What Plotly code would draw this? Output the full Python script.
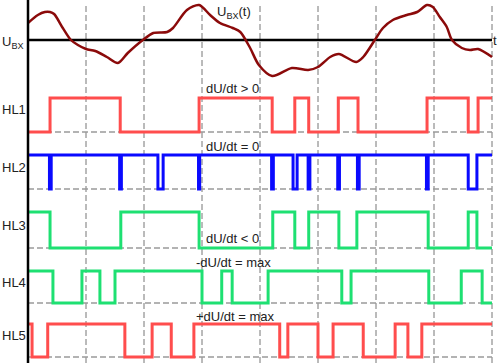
import plotly.graph_objects as go

# ---------------- data ----------------
# input voltage U_BX(t), time in grid units (dashed lines at t = 1..8)
u_t = [0.0, 0.17, 0.29, 0.38, 0.45, 0.60, 0.74, 0.86, 1.0, 1.16, 1.36, 1.55, 1.72, 1.98,
       2.16, 2.40, 2.50, 2.74, 2.95, 3.14, 3.31, 3.53, 3.66, 3.83, 3.98, 4.21, 4.55, 4.83,
       5.0, 5.21, 5.36, 5.66, 5.78, 5.98, 6.12, 6.29, 6.53, 6.71, 6.88, 6.98, 7.10, 7.22,
       7.31, 7.48, 7.62, 7.76, 8.0]
u_val = [1.7, 2.5, 2.8, 2.8, 2.6, 1.2, 0.0, -0.5, -0.9, -1.1, -1.7, -2.3, -1.3, 0.0,
         0.7, 0.8, 1.2, 3.0, 3.5, 2.5, 1.7, 1.2, 0.8, -0.8, -2.5, -3.6, -2.8, -3.0,
         -2.7, -1.7, -1.4, -2.2, -1.7, 0.0, 1.2, 2.0, 2.5, 2.8, 3.5, 3.3, 2.3, 1.3,
         0.0, -0.8, -1.0, -0.9, -1.7]

t_end = 8.0

# digital outputs: starting level and switching times
hl_names = ["HL1", "HL2", "HL3", "HL4", "HL5"]
hl1_start = 0
hl1_switch = [0.38, 1.59, 2.95, 4.21, 4.60, 4.84, 5.35, 5.69, 6.88, 7.59, 7.76]
hl2_start = 1
hl2_switch = [0.37, 0.40, 1.58, 1.61, 2.24, 2.33, 2.94, 2.96, 4.20, 4.23, 4.57, 4.64,
              4.83, 4.86, 5.34, 5.37, 5.68, 5.71, 6.87, 6.90, 7.59, 7.74]
hl3_start = 1
hl3_switch = [0.38, 1.60, 2.95, 4.22, 4.60, 4.84, 5.36, 5.67, 6.90, 7.59, 7.74]
hl4_start = 1
hl4_switch = [0.43, 0.93, 1.24, 1.50, 3.0, 3.34, 3.52, 4.14, 5.41, 5.57, 6.91, 7.47, 7.83]
hl5_start = 1
hl5_switch = [0.07, 0.34, 1.67, 2.14, 2.47, 2.86, 4.34, 4.48, 5.0, 5.26, 5.78, 6.33,
              6.55, 6.79]

grid_t = [1, 2, 3, 4, 5, 6, 7, 8]

condition_labels = ["dU/dt > 0", "dU/dt = 0", "dU/dt < 0", "-dU/dt = max", "+dU/dt = max"]

# ---------------- layout helpers ----------------
W, H = 500, 363
X0PX, UNITPX = 28, 58


def py2paper(py):
    return 1 - py / H


def px2paper(px):
    return px / W


# pixel rows (high level, low level) of each digital trace
rows_px = [(98, 132), (155, 189), (212, 248), (271, 303), (324, 357)]
colors = ["#ff4d4d", "#0a0aff", "#1ee072", "#1ee072", "#ff4d4d"]
pad = 0.15

fig = go.Figure()


def step_xy(start, switch, end):
    xs = [0.0] + list(switch) + [end]
    ys = []
    lvl = start
    for _ in range(len(switch) + 1):
        ys.append(lvl)
        lvl = 1 - lvl
    ys.append(ys[-1])
    return xs, ys


fig.add_trace(go.Scatter(x=u_t, y=u_val, mode="lines",
                         line=dict(color="#8b0a0a", width=2.5, shape="spline", smoothing=0.8),
                         xaxis="x", yaxis="y", showlegend=False, hoverinfo="skip"))

signals = [(hl1_start, hl1_switch), (hl2_start, hl2_switch), (hl3_start, hl3_switch),
           (hl4_start, hl4_switch), (hl5_start, hl5_switch)]

layout_axes = {}
shapes = []
for i, ((st, sw), (hi, lo), col) in enumerate(zip(signals, rows_px, colors)):
    ax = "y%d" % (i + 2)
    xs, ys = step_xy(st, sw, t_end)
    fig.add_trace(go.Scatter(x=xs, y=ys, mode="lines",
                             line=dict(color=col, width=3, shape="hv"),
                             xaxis="x", yaxis=ax, showlegend=False, hoverinfo="skip"))
    amp = lo - hi
    top = hi - pad * amp
    bot = lo + pad * amp
    layout_axes["yaxis%d" % (i + 2)] = dict(
        domain=[py2paper(bot), py2paper(top)], range=[-pad, 1 + pad],
        visible=False, fixedrange=True, anchor="x")
    shapes.append(dict(type="line", xref="x", yref=ax, x0=0, x1=t_end, y0=0, y1=0,
                       line=dict(color="#9a9a9a", width=1.5, dash="6px,3px"), layer="below"))

# dashed vertical grid
for g in grid_t:
    shapes.append(dict(type="line", xref="x", yref="paper", x0=g, x1=g,
                       y0=0, y1=py2paper(5),
                       line=dict(color="#777777", width=1, dash="6px,3px"), layer="below"))

# black axes
shapes.append(dict(type="line", xref="x", yref="y", x0=0, x1=t_end, y0=0, y1=0,
                   line=dict(color="black", width=2.5), layer="below"))
shapes.append(dict(type="line", xref="x", yref="paper", x0=0, x1=0, y0=0, y1=1,
                   line=dict(color="black", width=2.5), layer="above"))

font = dict(family="Liberation Sans, Arial, sans-serif", size=13, color="#222222")
annotations = []


def label(text, px, py):
    annotations.append(dict(text=text, x=px2paper(px), y=py2paper(py), xref="paper",
                            yref="paper", xanchor="left", yanchor="middle",
                            showarrow=False, font=font))


label("U<sub>BX</sub>(t)", 215, 12)
label("t", 491, 40)
label("U<sub>BX</sub>", 0, 42)
for name, (hi, lo) in zip(hl_names, rows_px):
    label(name, 0, (hi + lo) / 2 - 5)
cond_pos = [(204, 88), (204, 146), (204, 238), (194, 262), (194, 316)]
for txt, (px, py) in zip(condition_labels, cond_pos):
    label(txt, px, py)

u_top_py, u_bot_py = 0, 85
fig.update_layout(
    width=W, height=H, margin=dict(l=0, r=0, t=0, b=0),
    paper_bgcolor="white", plot_bgcolor="rgba(0,0,0,0)",
    xaxis=dict(range=[-X0PX / UNITPX, (W - X0PX) / UNITPX], visible=False, fixedrange=True),
    yaxis=dict(domain=[py2paper(u_bot_py), 1],
               range=[(40 - u_bot_py) / 10, (40 - u_top_py) / 10],
               visible=False, fixedrange=True),
    shapes=shapes, annotations=annotations, showlegend=False,
    **layout_axes,
)

fig.write_html(
    "out.html",
    config={"displayModeBar": False, "staticPlot": True},
    post_script="document.body.style.margin='0';document.body.style.overflow='hidden';",
)
